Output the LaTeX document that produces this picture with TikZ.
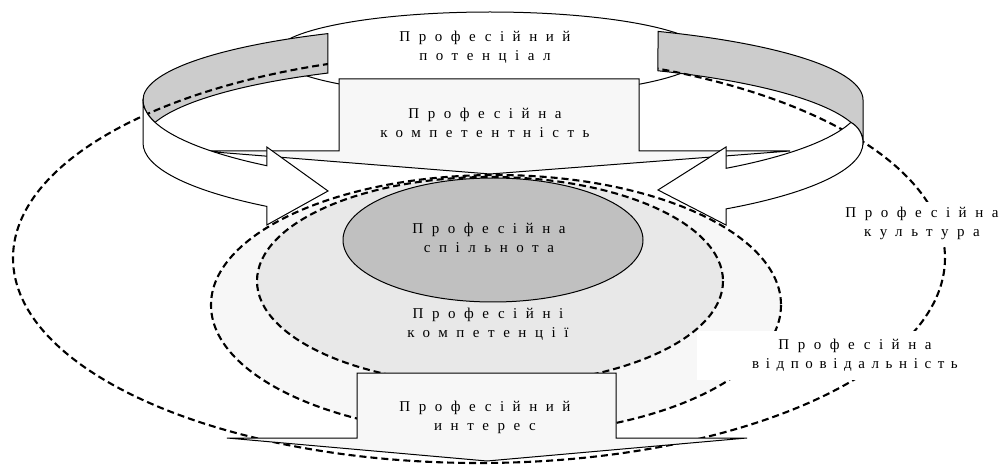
\documentclass[tikz,border=0pt]{standalone}
\usepackage{fontspec}
\setmainfont{Liberation Serif}
\newfontfamily\spaced[LetterSpace=57]{Liberation Serif}
\newfontfamily\tight[LetterSpace=44]{Liberation Serif}
\definecolor{bandgray}{HTML}{CCCCCC}
\definecolor{coregray}{HTML}{C0C0C0}
\definecolor{midgray}{HTML}{E8E8E8}
\definecolor{palegray}{HTML}{F7F7F7}

\newcommand\backleft{(327.9,33.6) arc[start angle=240.9,end angle=180,x radius=360,y radius=76]
  arc[start angle=180,end angle=165.1,x radius=360,y radius=87]
  arc[start angle=194.9,end angle=240.9,x radius=360,y radius=80] -- cycle}
\newcommand\backright{(658,31.4) arc[start angle=-64.5,end angle=0,x radius=360,y radius=76]
  -- (863,143) .. controls (863,135) and (859,127) .. (850.9,122.4)
  arc[start angle=-14.9,end angle=-64.5,x radius=360,y radius=80] -- cycle}

\tikzset{
  outline/.style={draw,line width=1pt},
  backface/.style={outline,fill=bandgray},
  frontface/.style={outline,fill=white},
  blockarrow/.style={outline,fill=palegray},
  dashring/.style={draw,line width=2.1pt,dash pattern=on 7pt off 4pt},
  lbl/.style={align=center,inner sep=0pt,font=\spaced\fontsize{15}{19}\selectfont}
}

\begin{document}
\begin{tikzpicture}[x=1pt,y=-1pt]
    \useasboundingbox (0,0) rectangle (1002,465);
    \draw[dashring] (479,258) ellipse [x radius=466,y radius=205];
    \filldraw[frontface] (490,54) ellipse [x radius=215,y radius=42];
    \filldraw[backface] \backleft;
    \filldraw[backface] \backright;
    \begin{scope}
      \clip \backleft \backright;
      \draw[dashring] (479,258) ellipse [x radius=466,y radius=205];
    \end{scope}
    \filldraw[blockarrow] (339,79) -- (639,79) -- (639,151) -- (790,151) -- (490,174) -- (202,151) -- (339,151) -- cycle;
    \filldraw[dashring,fill=palegray] (496,305) ellipse [x radius=285,y radius=130];
    \filldraw[dashring,fill=midgray] (490,281) ellipse [x radius=233,y radius=104];
    \filldraw[outline,fill=coregray] (493,240) ellipse [x radius=150,y radius=62];
    \filldraw[frontface] (143,100) -- (143,143) arc[start angle=180,end angle=131,x radius=360,y radius=84]
      -- (266.8,225) -- (328,191) -- (266.8,147) -- (266.8,165.7)
      arc[start angle=131,end angle=180,x radius=360,y radius=87] -- cycle;
    \filldraw[frontface] (863,143) .. controls (863,135) and (859,127) .. (850.9,122.4)
      arc[start angle=14.9,end angle=51.7,x radius=360,y radius=87]
      -- (726,147) -- (658,190) -- (726,225) -- (726.1,208.9)
      arc[start angle=51.7,end angle=0,x radius=360,y radius=84] -- cycle;
    \filldraw[blockarrow] (357,373) -- (616,373) -- (616,438) -- (747,438) -- (487,461) -- (227,438) -- (357,438) -- cycle;
    \node[fill=white,minimum width=268,minimum height=49] (respbox) at (831,355.5) {};
    \node[lbl] (potential) at (485,47) {Професійний\\потенціал};
    \node[lbl] (competence) at (485,123) {Професійна\\компетентність};
    \node[lbl] (community) at (489,238) {Професійна\\спільнота};
    \node[lbl] (competencies) at (488,324) {Професійні\\компетенції};
    \node[lbl] (interest) at (485,417) {Професійний\\интерес};
    \node[lbl,fill=white,inner sep=5pt] (culture) at (922,223) {Професійна\\культура};
    \node[lbl] (responsibility) at (855,355) {Професійна\\{\tight відповідальність}};
\end{tikzpicture}
\end{document}
